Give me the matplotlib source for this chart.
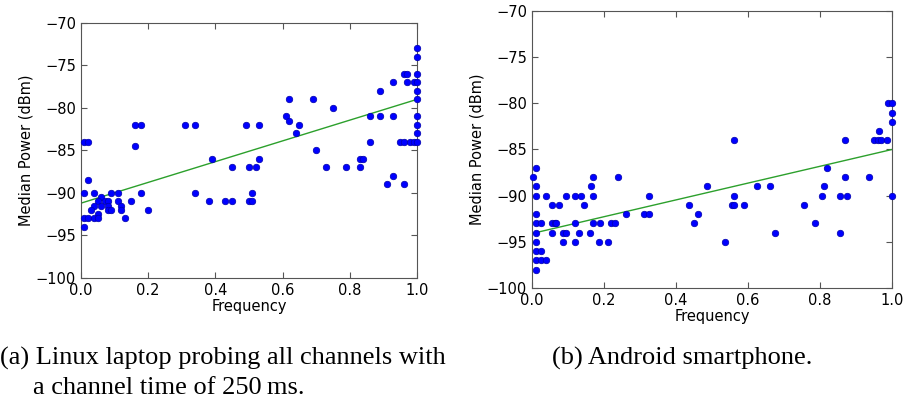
import numpy as np
import matplotlib
matplotlib.use("Agg")
import matplotlib.pyplot as plt

# (a) Linux laptop: frequency vs median power
laptop_pts = [
    (0.01, -84), (0.02, -84), (0.16, -82), (0.18, -82), (0.16, -84.5), (0.31, -82),
    (0.34, -82), (0.49, -82), (0.39, -86), (0.45, -87), (0.50, -87), (0.02, -88.5),
    (0.01, -90), (0.04, -90), (0.09, -90), (0.11, -90), (0.18, -90), (0.34, -90),
    (0.06, -90.5), (0.05, -91), (0.07, -91), (0.08, -91), (0.11, -91), (0.15, -91),
    (0.38, -91), (0.43, -91), (0.45, -91), (0.50, -91), (0.04, -91.5), (0.06, -91.5),
    (0.08, -91.5), (0.12, -91.5), (0.03, -92), (0.08, -92), (0.09, -92), (0.12, -92),
    (0.20, -92), (0.05, -92.5), (0.01, -93), (0.02, -93), (0.04, -93), (0.05, -93),
    (0.13, -93), (0.01, -94),
    (1.0, -73), (1.0, -74), (0.96, -76), (0.97, -76), (1.0, -76), (0.93, -77),
    (0.97, -77), (0.99, -77), (1.0, -77), (0.89, -78), (1.0, -78), (0.62, -79),
    (0.69, -79), (1.0, -79), (0.75, -80), (0.61, -81), (0.86, -81), (0.89, -81),
    (0.93, -81), (1.0, -81), (0.62, -81.5), (0.53, -82), (0.65, -82), (1.0, -82),
    (0.64, -83), (1.0, -83), (0.70, -85), (0.86, -84), (0.95, -84), (0.96, -84),
    (0.98, -84), (0.99, -84), (1.0, -84), (0.52, -87), (0.53, -86), (0.73, -87),
    (0.79, -87), (0.83, -87), (0.83, -86), (0.84, -86), (0.91, -89), (0.93, -88),
    (0.96, -89), (0.51, -90), (0.51, -91),
]
laptop_fit_x = [0.0, 1.0]
laptop_fit_y = [-91.2, -79.0]

# (b) Android smartphone
phone_pts = [
    (0.003, -88), (0.01, -87), (0.01, -89), (0.01, -90), (0.01, -92), (0.01, -93),
    (0.025, -93), (0.01, -94), (0.01, -95), (0.01, -96), (0.025, -96), (0.01, -97),
    (0.025, -97), (0.04, -97), (0.01, -98), (0.04, -90), (0.055, -91), (0.055, -93),
    (0.055, -94), (0.063, -93), (0.068, -93), (0.075, -91), (0.085, -94), (0.095, -94),
    (0.085, -95), (0.095, -90), (0.12, -90), (0.12, -93), (0.12, -95), (0.135, -90),
    (0.13, -94), (0.145, -91), (0.16, -94), (0.165, -89), (0.17, -88), (0.17, -90),
    (0.17, -93), (0.185, -95), (0.19, -93), (0.21, -95), (0.22, -93), (0.23, -93),
    (0.24, -88), (0.26, -92), (0.31, -92), (0.325, -90), (0.325, -92), (0.435, -91),
    (0.45, -93), (0.46, -92), (0.485, -89),
    (0.56, -84), (0.87, -84), (0.95, -84), (0.96, -84), (0.97, -84), (0.985, -84),
    (0.625, -89), (0.66, -89), (0.82, -87), (0.87, -88), (0.935, -88), (0.81, -89),
    (0.56, -90), (0.805, -90), (0.855, -90), (0.875, -90), (1.0, -90), (0.555, -91),
    (0.56, -91), (0.59, -91), (0.755, -91), (0.785, -93), (0.675, -94), (0.855, -94),
    (0.535, -95), (0.965, -83), (0.99, -80), (1.0, -80), (1.0, -81), (1.0, -82),
]
phone_fit_x = [0.0, 1.0]
phone_fit_y = [-94.1, -85.0]

x_ticks = [0.0, 0.2, 0.4, 0.6, 0.8, 1.0]
y_ticks = [-100, -95, -90, -85, -80, -75, -70]

fig = plt.figure(figsize=(9.13, 4.05), dpi=100)
ax1 = fig.add_axes([0.0887, 0.3136, 0.368, 0.630])
ax2 = fig.add_axes([0.5827, 0.2889, 0.3943, 0.684])

panels = [(ax1, laptop_pts, laptop_fit_x, laptop_fit_y),
          (ax2, phone_pts, phone_fit_x, phone_fit_y)]

for ax, pts, fx, fy in panels:
    px, py = np.array(pts).T
    ax.scatter(px, py, s=22, c='#0000ff', edgecolors='#0000aa', linewidths=0.5,
               zorder=3, clip_on=False)
    ax.plot(fx, fy, color='#2ca02c', lw=1.0, zorder=2)
    ax.set_xlim(0, 1.0)
    ax.set_ylim(-100, -70)
    ax.set_xticks(x_ticks)
    ax.set_yticks(y_ticks)
    ax.tick_params(direction='in', top=True, right=True, length=4,
                   labelsize=10.5, color='#555555')
    for sp in ax.spines.values():
        sp.set_color('#555555')
    ax.set_xlabel('Frequency', fontsize=10.5, labelpad=1)
    ax.set_ylabel('Median Power (dBm)', fontsize=10.5, labelpad=2)

# captions (serif, as in the document)
cap = dict(fontsize=19, family='Liberation Serif', va='baseline')
fig.text(0.0, 0.0988, '(a) Linux laptop probing all channels with', **cap)
fig.text(0.036, 0.027, 'a channel time of 250\u2009ms.', **cap)
fig.text(0.6046, 0.0988, '(b) Android smartphone.', **cap)

fig.savefig('out.png', dpi=100)
